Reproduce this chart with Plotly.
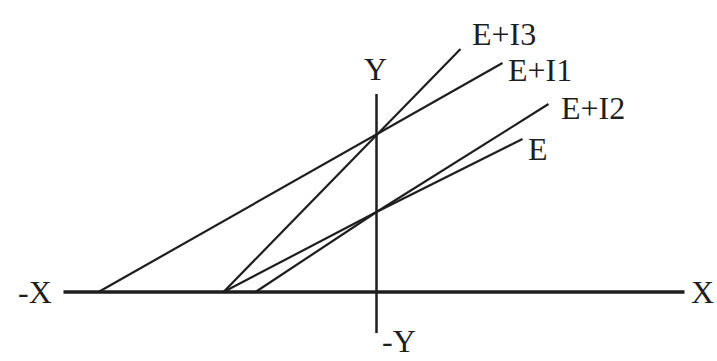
import plotly.graph_objects as go

# axes of the diagram (pixel-like units, origin where the axes cross)
x_axis_x = [-313, 308]
x_axis_y = [0, 0]
y_axis_x = [0, 0]
y_axis_y = [-41, 198]

# the four lines
ei1_x = [-278, 126]
ei1_y = [0, 229]
ei3_x = [-153, 84]
ei3_y = [0, 243]
ei2_x = [-153, 0, 172]
ei2_y = [0, 80, 188]
e_x = [-121, 0, 146]
e_y = [0, 80, 153]

line_names = ["E+I3", "E+I1", "E+I2", "E"]
axis_names = ["Y", "-Y", "-X", "X"]

ink = "#1e1e1e"
serif = "Liberation Serif, Times New Roman, serif"

fig = go.Figure()

fig.add_trace(go.Scatter(x=x_axis_x, y=x_axis_y, mode="lines",
                         line=dict(color=ink, width=3.5), hoverinfo="skip"))
fig.add_trace(go.Scatter(x=y_axis_x, y=y_axis_y, mode="lines",
                         line=dict(color=ink, width=2.5), hoverinfo="skip"))

for xs, ys, name in [(ei3_x, ei3_y, line_names[0]), (ei1_x, ei1_y, line_names[1]),
                     (ei2_x, ei2_y, line_names[2]), (e_x, e_y, line_names[3])]:
    fig.add_trace(go.Scatter(x=xs, y=ys, mode="lines", name=name,
                             line=dict(color=ink, width=2.2)))

# text labels
label_pos = [(127.5, 258), (163.5, 222), (216.5, 184), (161.5, 143)]
for (lx, ly), txt in zip(label_pos, line_names):
    fig.add_annotation(x=lx, y=ly, text=txt, showarrow=False,
                       font=dict(family=serif, size=32, color=ink))

axis_pos = [(-1.5, 223), (22.5, -49), (-341.5, 0), (325.5, 0)]
for (lx, ly), txt in zip(axis_pos, axis_names):
    fig.add_annotation(x=lx, y=ly, text=txt, showarrow=False,
                       font=dict(family=serif, size=32, color=ink))

fig.update_layout(
    width=717, height=361,
    margin=dict(l=0, r=0, t=0, b=0),
    paper_bgcolor="white", plot_bgcolor="white",
    showlegend=False,
    xaxis=dict(range=[-376.5, 340.5], visible=False, fixedrange=True),
    yaxis=dict(range=[-69, 292], visible=False, fixedrange=True),
)

fig.write_html("out.html", config={"displayModeBar": False},
               post_script="document.body.style.margin='0';")
